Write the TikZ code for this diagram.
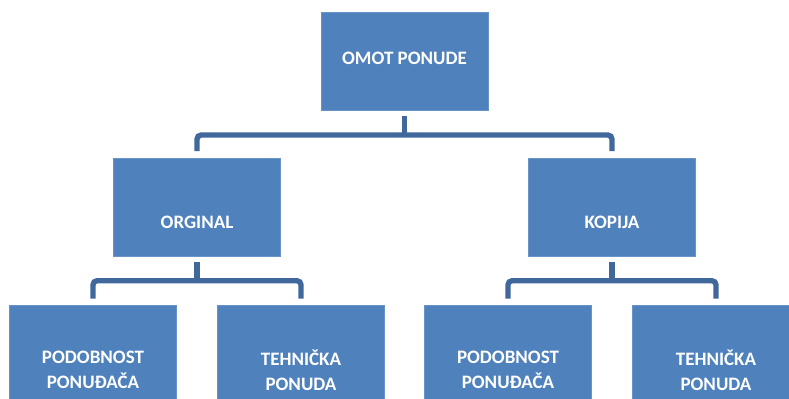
\documentclass[tikz,border=0pt]{standalone}
\usepackage{fontspec}
\setmainfont{Carlito}
\definecolor{boxblue}{HTML}{4F81BD}
\definecolor{linkblue}{HTML}{41689C}
\begin{document}
\begin{tikzpicture}[%
        x=0.75pt,y=-0.75pt,%
        box/.style={%
            rectangle,%
            minimum width=125pt,%
            minimum height=73.5pt,%
            inner sep=0pt,%
            draw=boxblue!85!white,%
            fill=boxblue%
        },%
        lbl/.style={%
            align=center,%
            text=white,%
            inner sep=0pt,%
            font=\fontsize{14.25}{18.75}\selectfont\bfseries%
        },%
        link/.style={%
            line width=4pt,%
            rounded corners=3pt,%
            draw=linkblue%
        }%
    ]
    \useasboundingbox (0,0) rectangle (789,399);
    \clip (0,0) rectangle (789,399);
    % boxes
    \node (omot)   at (404.5, 61) [box]{};
    \node (orginal) at (197, 207) [box]{};
    \node (kopija)  at (612, 207) [box]{};
    \node (podA)   at ( 93, 354) [box]{};
    \node (tehA)   at (301, 354) [box]{};
    \node (podB)   at (508, 354) [box]{};
    \node (tehB)   at (716, 354) [box]{};
    % texts
    \node (omot-t)    at ([yshift=2pt]omot.center)       [lbl]{OMOT PONUDE};
    \node (orginal-t) at ([yshift=-11.25pt]orginal.center) [lbl]{ORGINAL};
    \node (kopija-t)  at ([yshift=-11.25pt]kopija.center)  [lbl]{KOPIJA};
    \node (podA-t)    at ([yshift=-12pt]podA.center)     [lbl]{PODOBNOST\\PONUĐAČA};
    \node (tehA-t)    at ([yshift=-12pt]tehA.center)     [lbl]{TEHNIČKA\\PONUDA};
    \node (podB-t)    at ([yshift=-12pt]podB.center)     [lbl]{PODOBNOST\\PONUĐAČA};
    \node (tehB-t)    at ([yshift=-12pt]tehB.center)     [lbl]{TEHNIČKA\\PONUDA};
    % connectors
    \draw [link] ([yshift=5pt]orginal.north) -- ++(0,-16) coordinate (bus0) -| ([yshift=5pt]kopija.north);
    \draw [link] ([yshift=-4pt]omot.south) -- (omot.south |- bus0);
    \draw [link] ([yshift=4.5pt]podA.north) -- ++(0,-18) coordinate (bus1) -| ([yshift=4.5pt]tehA.north);
    \draw [link] ([yshift=-4.5pt]orginal.south) -- (orginal.south |- bus1);
    \draw [link] ([yshift=4.5pt]podB.north) -- ++(0,-18) coordinate (bus2) -| ([yshift=4.5pt]tehB.north);
    \draw [link] ([yshift=-4.5pt]kopija.south) -- (kopija.south |- bus2);
\end{tikzpicture}
\end{document}
